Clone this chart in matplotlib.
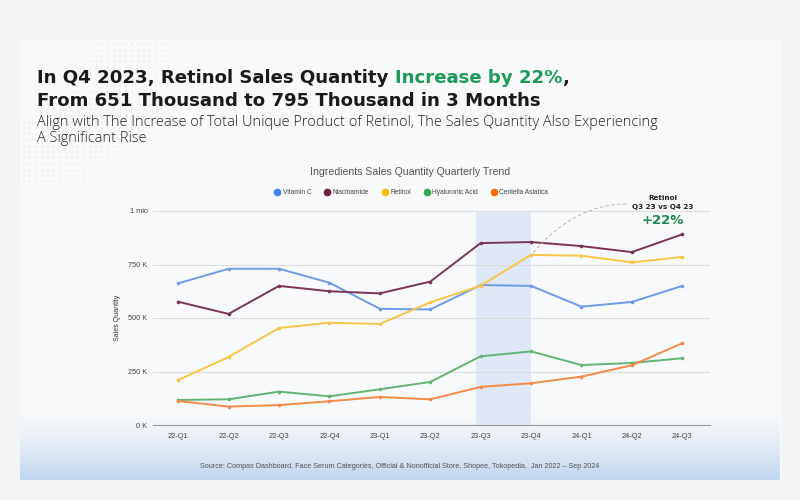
import numpy as np
import matplotlib.pyplot as plt
from matplotlib.patches import Rectangle

# data
quarters = ['22-Q1', '22-Q2', '22-Q3', '22-Q4', '23-Q1', '23-Q2',
            '23-Q3', '23-Q4', '24-Q1', '24-Q2', '24-Q3']
vitamin_c = [662, 730, 730, 665, 543, 540, 654, 650, 553, 575, 650]
niacinamide = [576, 519, 650, 625, 615, 670, 850, 855, 836, 808, 891]
retinol = [210, 318, 453, 478, 472, 573, 651, 795, 791, 760, 785]
hyaluronic = [117, 120, 156, 134, 167, 201, 321, 344, 280, 290, 312]
centella = [112, 86, 93, 111, 131, 120, 178, 195, 226, 279, 382]

series_names = ['Vitamin C', 'Niacinamide', 'Retinol', 'Hyaluronic Acid', 'Centella Asiatica']
series_values = [vitamin_c, niacinamide, retinol, hyaluronic, centella]
line_colors = ['#6e9be8', '#7a3555', '#f8c547', '#63b374', '#f38a45']
dot_colors = ['#4285f4', '#6e1f3f', '#fbbc04', '#34a853', '#ff6d01']

y_ticks = [0, 250, 500, 750, 1000]
y_labels = ['0 K', '250 K', '500 K', '750 K', '1 mio']

W, H = 800, 500


def fx(px):
    return px / W


def fy(py):
    return 1 - py / H


def fit_width(txt, target_px):
    # scale font size so the text spans the given width in pixels
    fig.canvas.draw()
    w = txt.get_window_extent().width
    txt.set_fontsize(txt.get_fontsize() * target_px / w)
    return txt.get_fontsize()


fig = plt.figure(figsize=(8, 5), dpi=100)
fig.patch.set_facecolor('#f3f4f6')

# background panel with blue gradient at the bottom
bg = fig.add_axes([0, 0, 1, 1])
bg.set_xlim(0, W)
bg.set_ylim(H, 0)
bg.axis('off')
bg.add_patch(Rectangle((20, 40), 760, 440, color='#f8f9fa', zorder=0))
grad = np.linspace(0, 1, 100).reshape(-1, 1) ** 1.5
top = np.array([248, 249, 250]) / 255
bot = np.array([192, 213, 239]) / 255
img = top + (bot - top) * grad[..., None]
bg.imshow(img, extent=(20, 780, 480, 408), aspect='auto', zorder=1)

# faint halftone dots at the top left
gx, gy = np.meshgrid(np.arange(24, 250, 6), np.arange(44, 190, 6))
d = np.hypot(gx - 20, gy - 40)
ring = np.exp(-((d - 110) / 55) ** 2)
keep = ring > 0.15
bg.scatter(gx[keep], gy[keep], s=ring[keep] * 1.6, color='#e3e7ec', zorder=2, lw=0)

# headline
title_font = dict(family='DejaVu Sans', weight='bold', size=12)
line2 = fig.text(fx(37), fy(101), 'From 651 Thousand to 795 Thousand in 3 Months', color='#1a1a1a',
                 va='center', **title_font)
title_font['size'] = fit_width(line2, 504)
t1 = fig.text(fx(37), fy(78), 'In Q4 2023, Retinol Sales Quantity ', color='#1a1a1a', va='center', **title_font)
fig.canvas.draw()
bb = t1.get_window_extent()
t2 = fig.text(bb.x1 / fig.bbox.width, fy(78), 'Increase by 22%', color='#1e9a58', va='center', **title_font)
fig.canvas.draw()
bb = t2.get_window_extent()
fig.text(bb.x1 / fig.bbox.width, fy(78), ',', color='#1a1a1a', va='center', **title_font)

sub_font = dict(family='Open Sans', weight='light', size=9.6, color='#222222')
sub1 = fig.text(fx(37), fy(123), 'Align with The Increase of Total Unique Product of Retinol, The Sales Quantity Also Experiencing',
                va='center', **sub_font)
sub_font['size'] = fit_width(sub1, 622)
fig.text(fx(37), fy(139), 'A Significant Rise', va='center', **sub_font)

# chart
ax = fig.add_axes([fx(153), fy(425), fx(710) - fx(153), fy(211) - fy(425)])
ax.set_facecolor('none')
x = np.arange(len(quarters))
ax.axvspan(5.9, 7.0, color='#dfe8f7', zorder=0, lw=0)
for name, vals, lc in zip(series_names, series_values, line_colors):
    ax.plot(x, np.array(vals) * 1000, color=lc, lw=1.4, marker='o', ms=1.6, zorder=3, label=name)

ax.set_xlim(-0.5, 10.55)
ax.set_ylim(0, 1000000)
ax.set_yticks([v * 1000 for v in y_ticks])
ax.set_yticklabels(y_labels)
ax.set_xticks(x)
ax.set_xticklabels(quarters)
ax.tick_params(axis='both', length=0, labelsize=5.3, colors='#444444', pad=4)
ax.tick_params(axis='x', pad=6)
for lab in ax.get_xticklabels() + ax.get_yticklabels():
    lab.set_family('Liberation Sans')
ax.grid(axis='y', color='#dcdcdc', lw=0.8)
for s in ['top', 'right', 'left']:
    ax.spines[s].set_visible(False)
ax.spines['bottom'].set_color('#999999')
ax.set_ylabel('Sales Quantity', fontsize=5, color='#333333', family='Liberation Sans', labelpad=5)

fig.text(fx(410), fy(172), 'Ingredients Sales Quantity Quarterly Trend', ha='center', va='center',
         fontsize=7.6, color='#555555', family='Liberation Sans')

handles = [plt.Line2D([], [], ls='none', marker='o', ms=4.5, color=c) for c in dot_colors]
fig.legend(handles, series_names, loc='center', bbox_to_anchor=(fx(411), fy(193)), ncol=5, frameon=False,
           prop=dict(family='Liberation Sans', size=4.8), labelcolor='#444444', handletextpad=0.3,
           columnspacing=1.9, handlelength=1)

# annotation
ann_font = dict(family='DejaVu Sans', weight='bold', ha='center', va='center')
fig.text(fx(663), fy(198), 'Retinol', fontsize=5.2, color='#222222', **ann_font)
fig.text(fx(663), fy(207), 'Q3 23 vs Q4 23', fontsize=5.2, color='#222222', **ann_font)
fig.text(fx(663), fy(220), '+22%', fontsize=9.5, color='#1e8a52', **ann_font)
ax.annotate('', xy=(7, retinol[7] * 1000), xycoords='data',
            xytext=(fx(626), fy(204)), textcoords='figure fraction',
            arrowprops=dict(arrowstyle='-', ls=(0, (3, 3)), color='#b5b5b5', lw=0.7,
                            connectionstyle='angle3,angleA=0,angleB=50', shrinkA=0, shrinkB=0),
            annotation_clip=False)

fig.text(fx(400), fy(467), 'Source: Compas Dashboard, Face Serum Categories, Official & Nonofficial Store, Shopee, Tokopedia,  Jan 2022 \u2013 Sep 2024',
         ha='center', va='center', fontsize=5.2, color='#555555', family='Liberation Sans')

fig.savefig('out.png', dpi=100, facecolor=fig.get_facecolor())
